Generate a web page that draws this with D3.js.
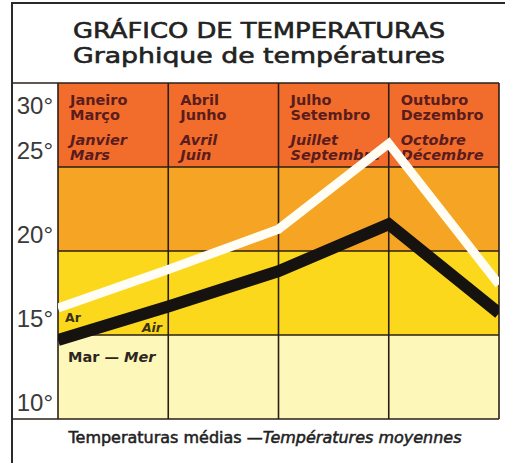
<!DOCTYPE html>
<html>
<head>
<meta charset="utf-8">
<script src="https://cdn.jsdelivr.net/npm/d3@7"></script>
<style>
    body { margin: 0; background: #fff; }
    svg { display: block; }
    .tick-label { font-family: "Liberation Sans", sans-serif; font-size: 24px; fill: #3a3a3a; }
    .quarter-label { font-family: "DejaVu Sans", sans-serif; font-size: 14.5px; font-weight: bold; fill: #5a1c1c; }
    .title { font-family: "DejaVu Sans", sans-serif; font-size: 21px; fill: #222; stroke: #222; stroke-width: 0.6px; }
</style>
</head>
<body>
<div id="chartDiv"></div>
<script>
// temperature bands / ticks (degrees C)
const tempTicks = [10, 15, 20, 25, 30];
// quarter boundaries: jan, abr, jul, out, jan
const quarterStops = [0, 1, 2, 3, 4];
const quarterNamesPt = [['Janeiro', 'Março'], ['Abril', 'Junho'], ['Julho', 'Setembro'], ['Outubro', 'Dezembro']];
const quarterNamesFr = [['Janvier', 'Mars'], ['Avril', 'Juin'], ['Juillet', 'Septembre'], ['Octobre', 'Décembre']];
// mean temperatures at each quarter boundary
const airTemps = [16.6, 18.9, 21.3, 26.4, 18.0];
const seaTemps = [14.7, 16.7, 18.8, 21.6, 16.3];

const bandColors = ['#fdf7b9', '#fbd81c', '#f6a424', '#f26c2c'];

class TemperatureChart {
    constructor() {
        this.width = 505;
        this.height = 463;
        this.plot = { left: 58, right: 499, top: 83, bottom: 419 };
        this.drawChart();
    }

    drawChart() {
        let p = this.plot;
        this.svg = d3.select('#chartDiv')
            .append('svg')
            .attr('width', this.width)
            .attr('height', this.height);

        this.xScale = d3.scaleLinear()
            .domain([0, 4])
            .range([p.left, p.right]);
        this.yScale = d3.scaleLinear()
            .domain([10, 30])
            .range([p.bottom, p.top]);

        let x = this.xScale, y = this.yScale;

        // colour bands
        let bands = d3.pairs(tempTicks);
        this.svg.append('g').selectAll('rect')
            .data(bands)
            .enter().append('rect')
            .attr('x', x(0))
            .attr('width', x(4) - x(0))
            .attr('y', d => y(d[1]))
            .attr('height', d => y(d[0]) - y(d[1]))
            .attr('fill', (d, i) => bandColors[i]);

        // grid
        let grid = this.svg.append('g')
            .attr('stroke', '#2a1f16')
            .attr('stroke-width', 1.6);
        grid.selectAll('line.v')
            .data(quarterStops)
            .enter().append('line')
            .attr('x1', d => x(d)).attr('x2', d => x(d))
            .attr('y1', y(30)).attr('y2', y(10));
        grid.selectAll('line.h')
            .data(tempTicks)
            .enter().append('line')
            .attr('x1', d => (d == 10 || d == 30) ? 12 : x(0))
            .attr('x2', x(4))
            .attr('y1', d => y(d)).attr('y2', d => y(d));

        // outer frame
        this.svg.append('path')
            .attr('d', 'M505,3H12V463')
            .attr('fill', 'none')
            .attr('stroke', '#2a2a2a')
            .attr('stroke-width', 2);

        // y axis labels
        let yAxis = d3.axisLeft(y)
            .tickValues(tempTicks)
            .tickSize(0)
            .tickPadding(0)
            .tickFormat(d => d + '°');
        let axisG = this.svg.append('g')
            .attr('transform', 'translate(53,0)')
            .call(yAxis);
        axisG.select('.domain').remove();
        axisG.selectAll('text')
            .attr('class', 'tick-label')
            .attr('font-family', null).attr('font-size', null)
            .attr('fill', null)
            .attr('dy', d => d == 30 ? 30 : -9);

        // quarter names
        let qG = this.svg.append('g');
        quarterNamesPt.forEach((names, i) => {
            let tx = x(i) + 12;
            let t = qG.append('text').attr('class', 'quarter-label');
            t.append('tspan').attr('x', tx).attr('y', 105).text(names[0]);
            t.append('tspan').attr('x', tx).attr('y', 119.5).text(names[1]);
            let f = qG.append('text').attr('class', 'quarter-label').attr('font-style', 'italic');
            f.append('tspan').attr('x', tx).attr('y', 144.5).text(quarterNamesFr[i][0]);
            f.append('tspan').attr('x', tx).attr('y', 159.5).text(quarterNamesFr[i][1]);
        });

        // lines
        this.svg.append('clipPath').attr('id', 'plotClip')
            .append('rect')
            .attr('x', p.left).attr('y', p.top)
            .attr('width', p.right - p.left).attr('height', p.bottom - p.top);

        let line = d3.line()
            .x((d, i) => x(quarterStops[i]))
            .y(d => y(d));

        let lineG = this.svg.append('g').attr('clip-path', 'url(#plotClip)');
        lineG.append('path')
            .attr('d', line(airTemps))
            .attr('fill', 'none')
            .attr('stroke', '#fffdf4')
            .attr('stroke-width', 9)
            .attr('stroke-linejoin', 'miter');
        lineG.append('path')
            .attr('d', line(seaTemps))
            .attr('fill', 'none')
            .attr('stroke', '#161210')
            .attr('stroke-width', 12)
            .attr('stroke-linejoin', 'miter');

        // line labels
        let lab = this.svg.append('g')
            .attr('font-family', 'DejaVu Sans, sans-serif')
            .attr('font-weight', 'bold')
            .attr('fill', '#3a3213');
        lab.append('text').attr('x', 65).attr('y', 322)
            .attr('font-size', 12.5).text('Ar');
        lab.append('text').attr('x', 162).attr('y', 332)
            .attr('font-size', 12.5).attr('font-style', 'italic')
            .attr('text-anchor', 'end').text('Air');
        let mar = lab.append('text').attr('x', 68).attr('y', 362)
            .attr('font-size', 14.5).attr('fill', '#2c2620');
        mar.append('tspan').text('Mar — ');
        mar.append('tspan').attr('font-style', 'italic').text('Mer');

        // title
        this.svg.append('text').attr('class', 'title')
            .attr('x', 259).attr('y', 38)
            .attr('text-anchor', 'middle')
            .attr('textLength', 372).attr('lengthAdjust', 'spacingAndGlyphs')
            .text('GRÁFICO DE TEMPERATURAS');
        this.svg.append('text').attr('class', 'title')
            .attr('x', 259).attr('y', 63)
            .attr('text-anchor', 'middle')
            .attr('textLength', 372).attr('lengthAdjust', 'spacingAndGlyphs')
            .text('Graphique de températures');

        // footer
        let foot = this.svg.append('text')
            .attr('x', 265).attr('y', 443)
            .attr('text-anchor', 'middle')
            .attr('font-family', 'DejaVu Sans, sans-serif')
            .attr('font-size', 15)
            .attr('fill', '#222')
            .attr('stroke', '#222')
            .attr('stroke-width', 0.5)
            .attr('textLength', 393)
            .attr('lengthAdjust', 'spacingAndGlyphs');
        foot.append('tspan').text('Temperaturas médias —');
        foot.append('tspan').attr('font-style', 'italic').text('Températures moyennes');
    }
}

new TemperatureChart();
</script>
</body>
</html>
